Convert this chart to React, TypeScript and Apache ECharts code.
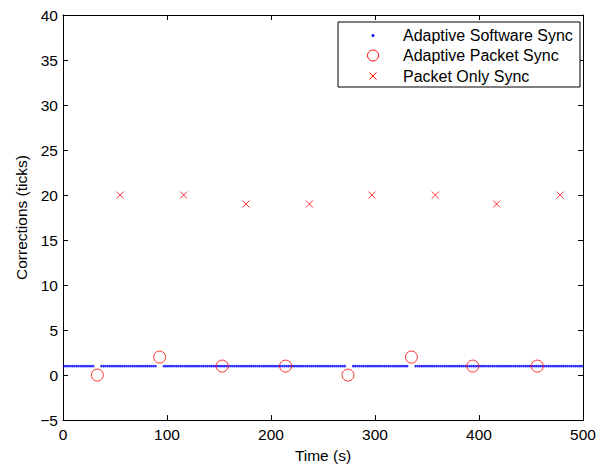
import React, { useEffect, useRef } from "react";
import * as echarts from "echarts";

// Adaptive Software Sync: sample times (s), all corrections = 1
const softwareTimes = [
  1, 3, 5, 7, 9, 11, 13, 15, 17, 19, 21, 23, 25, 27, 29,
  37, 39, 41, 43, 45, 47, 49, 51, 53, 55, 57, 59, 61, 63, 65, 67, 69, 71, 73, 75, 77, 79, 81, 83, 85, 87, 89,
  97, 99, 101, 103, 105, 107, 109, 111, 113, 115, 117, 119, 121, 123, 125, 127, 129, 131, 133, 135, 137, 139,
  141, 143, 145, 147, 149, 151, 153, 155, 157, 159, 161, 163, 165, 167, 169, 171, 173, 175, 177, 179, 181, 183,
  185, 187, 189, 191, 193, 195, 197, 199, 201, 203, 205, 207, 209, 211, 213, 215, 217, 219, 221, 223, 225, 227,
  229, 231, 233, 235, 237, 239, 241, 243, 245, 247, 249, 251, 253, 255, 257, 259, 261, 263, 265, 267, 269, 271,
  279, 281, 283, 285, 287, 289, 291, 293, 295, 297, 299, 301, 303, 305, 307, 309, 311, 313, 315, 317, 319, 321,
  323, 325, 327, 329, 331,
  339, 341, 343, 345, 347, 349, 351, 353, 355, 357, 359, 361, 363, 365, 367, 369, 371, 373, 375, 377, 379, 381,
  383, 385, 387, 389, 391, 393, 395, 397, 399, 401, 403, 405, 407, 409, 411, 413, 415, 417, 419, 421, 423, 425,
  427, 429, 431, 433, 435, 437, 439, 441, 443, 445, 447, 449, 451, 453, 455, 457, 459, 461, 463, 465, 467, 469,
  471, 473, 475, 477, 479, 481, 483, 485, 487, 489, 491, 493, 495, 497, 499,
];
const softwareValue = 1;

// Adaptive Packet Sync
const packetTimes = [33, 93, 153, 214, 274, 335, 394, 456];
const packetValues = [0, 2, 1, 1, 0, 2, 1, 1];

// Packet Only Sync
const onlyTimes = [55, 116, 176, 237, 297, 358, 417, 478];
const onlyValues = [20, 20, 19, 19, 20, 20, 19, 20];

const seriesNames = ["Adaptive Software Sync", "Adaptive Packet Sync", "Packet Only Sync"];

const xTicks = { min: 0, max: 500, interval: 100 };
const yTicks = { min: -5, max: 40, interval: 5 };

const FONT = "Liberation Sans";
const AXIS_FS = 15.5;
const LEG_FS = 16;
const crossPath = "path://M0,0L10,10M10,0L0,10";

export default function App() {
  const ref = useRef<HTMLDivElement>(null);
  useEffect(() => {
    if (!ref.current) return;
    const chart = echarts.init(ref.current, null, { renderer: "svg" });
    const axisCommon = {
      axisLine: { show: true, onZero: false, lineStyle: { color: "#000", width: 1 } },
      axisTick: { show: true, inside: true, length: 5, lineStyle: { color: "#000" } },
      splitLine: { show: false },
    };
    const fmt = (v: number) => String(v).replace("-", "\u2212");

    const legX = 338, legY = 22, legW = 242, legH = 65;
    const rowY = [35.5, 55.5, 76];
    const iconX = 373;
    const textX = 403;
    const legendGraphic = {
      type: "group",
      z: 100,
      children: [
        {
          type: "rect",
          shape: { x: legX, y: legY, width: legW, height: legH },
          style: { fill: "#fff", stroke: "#000", lineWidth: 1 },
          z: 100,
        },
        {
          type: "circle",
          shape: { cx: iconX, cy: rowY[0], r: 1.5 },
          style: { fill: "#0000ff" },
          z: 101,
        },
        {
          type: "circle",
          shape: { cx: iconX, cy: rowY[1], r: 5.5 },
          style: { fill: "none", stroke: "#ff0000", lineWidth: 1 },
          z: 101,
        },
        {
          type: "line",
          shape: { x1: iconX - 3.5, y1: rowY[2] - 3.5, x2: iconX + 3.5, y2: rowY[2] + 3.5 },
          style: { stroke: "#ff0000", lineWidth: 1 },
          z: 101,
        },
        {
          type: "line",
          shape: { x1: iconX - 3.5, y1: rowY[2] + 3.5, x2: iconX + 3.5, y2: rowY[2] - 3.5 },
          style: { stroke: "#ff0000", lineWidth: 1 },
          z: 101,
        },
        ...seriesNames.map((name, i) => ({
          type: "text",
          x: textX,
          y: rowY[i],
          style: {
            text: name,
            fontFamily: FONT,
            fontSize: LEG_FS,
            fill: "#000",
            textVerticalAlign: "middle",
            verticalAlign: "middle",
          },
          z: 101,
        })),
      ],
    };

    chart.setOption({
      animation: false,
      backgroundColor: "#fff",
      grid: { left: 63, right: 22, top: 15, bottom: 43, containLabel: false },
      graphic: [legendGraphic],
      xAxis: [
        {
          type: "value",
          ...xTicks,
          name: "Time (s)",
          nameLocation: "middle",
          nameGap: 25,
          nameTextStyle: { fontFamily: FONT, fontSize: AXIS_FS, color: "#000" },
          axisLabel: { fontFamily: FONT, fontSize: AXIS_FS, color: "#000", margin: 6 },
          ...axisCommon,
        },
        {
          type: "value",
          ...xTicks,
          position: "top",
          axisLabel: { show: false },
          ...axisCommon,
        },
      ],
      yAxis: [
        {
          type: "value",
          ...yTicks,
          name: "Corrections (ticks)",
          nameLocation: "middle",
          nameGap: 27,
          nameTextStyle: { fontFamily: FONT, fontSize: AXIS_FS, color: "#000" },
          axisLabel: { fontFamily: FONT, fontSize: AXIS_FS, color: "#000", margin: 5, formatter: fmt },
          ...axisCommon,
        },
        {
          type: "value",
          ...yTicks,
          position: "right",
          axisLabel: { show: false },
          ...axisCommon,
        },
      ],
      series: [
        {
          name: seriesNames[0],
          type: "scatter",
          symbol: "circle",
          symbolSize: 2.6,
          itemStyle: { color: "#0000ff" },
          data: softwareTimes.map((t) => [t, softwareValue]),
          z: 2,
        },
        {
          name: seriesNames[1],
          type: "scatter",
          symbol: "circle",
          symbolSize: 12,
          itemStyle: { color: "rgba(0,0,0,0)", borderColor: "#ff0000", borderWidth: 1 },
          data: packetTimes.map((t, i) => [t, packetValues[i]]),
          z: 3,
        },
        {
          name: seriesNames[2],
          type: "scatter",
          symbol: crossPath,
          symbolSize: 7,
          itemStyle: { color: "rgba(0,0,0,0)", borderColor: "#ff0000", borderWidth: 1 },
          data: onlyTimes.map((t, i) => [t, onlyValues[i]]),
          z: 3,
        },
      ],
    });
    return () => chart.dispose();
  }, []);
  return <div ref={ref} style={{ width: 605, height: 468, position: "absolute", left: 0, top: 0 }} />;
}
